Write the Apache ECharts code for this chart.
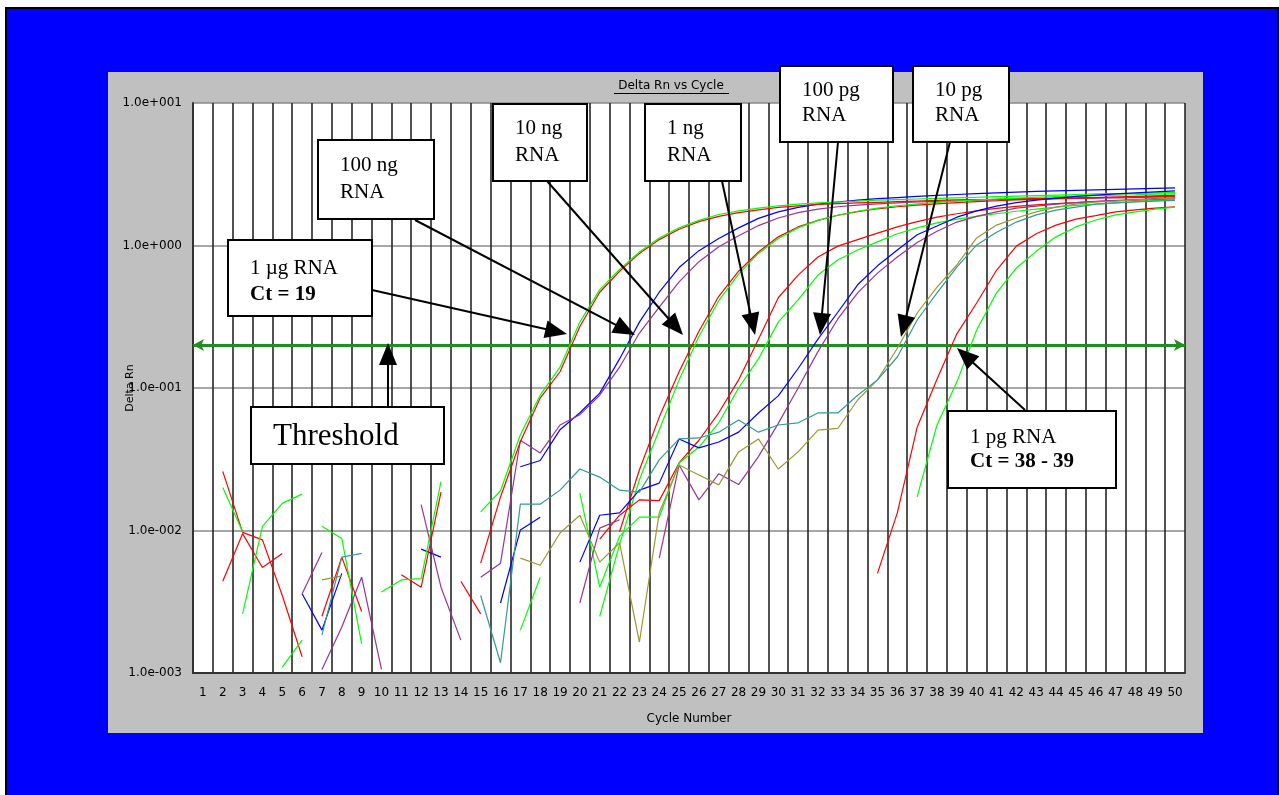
<!DOCTYPE html>
<html>
<head>
<meta charset="utf-8">
<script src="https://cdn.jsdelivr.net/npm/echarts/dist/echarts.min.js"></script>
<style>
  html, body { margin: 0; padding: 0; background: #ffffff; }
  #chart { width: 1279px; height: 795px; }
</style>
</head>
<body>
<div id="chart"></div>
<script>
// Real-time PCR amplification plot: Delta Rn (log scale) against cycle number
// for a 10-fold RNA dilution series, each dilution run in duplicate.

const _ = null;

const CYCLES = [
  '1','2','3','4','5','6','7','8','9','10',
  '11','12','13','14','15','16','17','18','19','20',
  '21','22','23','24','25','26','27','28','29','30',
  '31','32','33','34','35','36','37','38','39','40',
  '41','42','43','44','45','46','47','48','49','50'
];

const Y_TICKS = [0.001, 0.01, 0.1, 1, 10];
const THRESHOLD = 0.2;

// 1 ug RNA
const ug1_red = [
  _, 0.026, 0.0097, 0.0086, 0.0035, 0.0013, _, _, _, _,
  _, _, _, _, 0.0059, 0.0172, 0.042, 0.085, 0.13, 0.27,
  0.47, 0.66, 0.88, 1.1, 1.3, 1.47, 1.6, 1.7, 1.78, 1.85,
  1.9, 1.94, 1.97, 1.99, 2.01, 2.03, 2.05, 2.07, 2.09, 2.1,
  2.11, 2.13, 2.14, 2.15, 2.16, 2.17, 2.18, 2.19, 2.21, 2.22
];
const ug1_green = [
  _, 0.020, 0.0098, _, 0.0011, 0.0017, _, _, _, _,
  _, _, _, _, 0.0135, 0.019, 0.047, 0.089, 0.14, 0.29,
  0.49, 0.68, 0.9, 1.13, 1.33, 1.5, 1.65, 1.75, 1.83, 1.9,
  1.95, 1.99, 2.02, 2.05, 2.08, 2.1, 2.12, 2.14, 2.16, 2.18,
  2.2, 2.22, 2.24, 2.26, 2.28, 2.3, 2.31, 2.32, 2.34, 2.35
];
// 100 ng RNA
const ng100_blue = [
  _, _, _, _, _, 0.0036, 0.0020, 0.0050, _, _,
  _, 0.0074, 0.0065, _, _, _, 0.028, 0.031, 0.051, 0.067,
  0.092, 0.16, 0.29, 0.47, 0.7, 0.92, 1.12, 1.33, 1.55, 1.72,
  1.85, 1.95, 2.02, 2.08, 2.13, 2.17, 2.21, 2.25, 2.28, 2.31,
  2.34, 2.37, 2.4, 2.42, 2.44, 2.46, 2.48, 2.5, 2.52, 2.54
];
const ng100_purple = [
  _, _, _, _, _, 0.0036, 0.0070, _, _, _,
  _, _, _, _, 0.0047, 0.0059, 0.043, 0.035, 0.055, 0.065,
  0.089, 0.14, 0.243, 0.37, 0.555, 0.77, 0.98, 1.17, 1.38, 1.56,
  1.7, 1.8, 1.87, 1.92, 1.96, 1.99, 2.02, 2.04, 2.06, 2.08,
  2.1, 2.11, 2.12, 2.13, 2.14, 2.15, 2.16, 2.17, 2.18, 2.2
];
// 10 ng RNA
const ng10_red = [
  _, 0.0044, 0.0095, 0.0055, 0.0069, _, _, _, _, _,
  _, _, _, _, _, _, _, _, _, _,
  _, 0.0098, 0.0266, 0.0625, 0.13, 0.25, 0.44, 0.66, 0.9, 1.15,
  1.35, 1.5, 1.63, 1.73, 1.81, 1.87, 1.92, 1.96, 2.0, 2.03,
  2.06, 2.09, 2.11, 2.13, 2.15, 2.17, 2.19, 2.21, 2.23, 2.25
];
const ng10_green = [
  _, _, 0.0026, 0.0107, 0.0155, 0.018, _, _, _, _,
  _, _, _, _, _, _, _, _, _, _,
  0.0025, 0.008, 0.0227, 0.0507, 0.114, 0.23, 0.41, 0.63, 0.88, 1.12,
  1.33, 1.5, 1.63, 1.74, 1.83, 1.9, 1.96, 2.01, 2.05, 2.09,
  2.12, 2.15, 2.18, 2.2, 2.22, 2.24, 2.26, 2.27, 2.29, 2.3
];
// 1 ng RNA
const ng1_red = [
  _, _, _, _, _, _, 0.0025, 0.0065, 0.0027, _,
  0.0049, 0.0040, 0.0186, _, _, _, _, _, _, _,
  0.0087, 0.0128, 0.0164, 0.0162, 0.0298, 0.043, 0.067, 0.114, 0.22, 0.43,
  0.62, 0.83, 0.99, 1.1, 1.22, 1.35, 1.47, 1.58, 1.67, 1.75,
  1.82, 1.88, 1.93, 1.97, 2.0, 2.03, 2.06, 2.08, 2.1, 2.12
];
const ng1_green = [
  _, _, _, _, _, _, 0.0107, 0.0088, 0.0016, _,
  _, _, _, _, _, _, 0.0020, 0.0047, _, 0.0183,
  0.0040, 0.0091, 0.0124, 0.0124, 0.0298, 0.0385, 0.057, 0.1, 0.16, 0.29,
  0.415, 0.62, 0.79, 0.93, 1.06, 1.21, 1.33, 1.44, 1.53, 1.6,
  1.67, 1.74, 1.8, 1.86, 1.91, 1.95, 1.99, 2.03, 2.07, 2.1
];
// 100 pg RNA
const pg100_blue = [
  _, _, _, _, _, _, _, _, _, _,
  _, _, _, _, _, 0.0031, 0.0101, 0.0124, _, 0.0060,
  0.0128, 0.0133, 0.0192, 0.0215, 0.0439, 0.038, 0.0418, 0.049, 0.0668, 0.088,
  0.137, 0.22, 0.34, 0.53, 0.72, 0.93, 1.19, 1.37, 1.58, 1.75,
  1.89, 2.0, 2.08, 2.15, 2.21, 2.26, 2.3, 2.34, 2.38, 2.42
];
const pg100_purple = [
  _, _, _, _, _, _, 0.00106, 0.0021, 0.0047, 0.00106,
  _, 0.0152, 0.0040, 0.0017, _, _, _, _, _, 0.0031,
  0.0104, 0.0119, _, 0.0064, 0.0288, 0.0164, 0.025, 0.021, 0.033, 0.0565,
  0.10, 0.18, 0.305, 0.465, 0.64, 0.83, 1.05, 1.26, 1.46, 1.6,
  1.72, 1.83, 1.89, 1.95, 2.0, 2.04, 2.07, 2.1, 2.13, 2.15
];
// 10 pg RNA
const pg10_olive = [
  _, _, _, _, _, _, 0.0045, 0.0048, _, _,
  _, _, _, _, _, _, 0.0064, 0.0057, 0.0096, 0.0128,
  0.0060, 0.0082, 0.00165, 0.0133, 0.0288, 0.0245, 0.0209, 0.0356, 0.0439, 0.027,
  0.0356, 0.0507, 0.052, 0.0824, 0.114, 0.19, 0.336, 0.51, 0.73, 1.13,
  1.39, 1.56, 1.72, 1.86, 1.95, 2.02, 2.05, 2.09, 2.12, 2.16
];
const pg10_teal = [
  _, _, _, _, _, _, 0.00185, 0.0065, 0.0069, _,
  _, _, _, _, 0.0035, 0.00118, 0.0153, 0.0153, 0.0192, 0.027,
  0.0237, 0.0192, 0.0186, 0.0313, 0.0439, 0.0446, 0.049, 0.0596, 0.049, 0.055,
  0.057, 0.0668, 0.0668, 0.089, 0.114, 0.165, 0.30, 0.465, 0.706, 1.01,
  1.24, 1.46, 1.64, 1.77, 1.86, 1.95, 1.99, 2.02, 2.05, 2.07
];
// 1 pg RNA
const pg1_red = [
  _, _, _, _, _, _, _, _, _, _,
  _, _, _, 0.0044, 0.0026, _, _, _, _, _,
  _, _, _, _, _, _, _, _, _, _,
  _, _, _, _, 0.0050, 0.0133, 0.053, 0.115, 0.24, 0.395,
  0.67, 0.99, 1.21, 1.39, 1.53, 1.62, 1.72, 1.78, 1.83, 1.87
];
const pg1_green = [
  _, _, _, _, _, _, _, _, _, 0.0037,
  0.0045, 0.0046, 0.022, _, _, _, _, _, _, _,
  _, _, _, _, _, _, _, _, _, _,
  _, _, _, _, _, _, 0.0172, 0.055, 0.11, 0.255,
  0.465, 0.695, 0.91, 1.15, 1.35, 1.51, 1.64, 1.72, 1.80, 1.86
];

const RED = '#ff0000', GREEN = '#00ff00', BLUE = '#0000ff',
      PURPLE = '#993399', OLIVE = '#999933', TEAL = '#339999';

const traces = [
  [ng100_blue, BLUE], [ng100_purple, PURPLE],
  [ug1_red, RED], [ug1_green, GREEN],
  [ng10_red, RED], [ng10_green, GREEN],
  [ng1_red, RED], [ng1_green, GREEN],
  [pg100_blue, BLUE], [pg100_purple, PURPLE],
  [pg10_olive, OLIVE], [pg10_teal, TEAL],
  [pg1_red, RED], [pg1_green, GREEN]
];

const SERIF = '"Liberation Serif", "Times New Roman", serif';
const SANS = '"DejaVu Sans", sans-serif';

// callout boxes with their text lines [text, bold, dy]
const notes = [
  { x: 228, y: 240, w: 144, h: 76, size: 21, lines: [['1 \u00b5g RNA', false, 28], ['Ct = 19', true, 55]] },
  { x: 318, y: 140, w: 116, h: 79, size: 21, lines: [['100 ng', false, 25], ['RNA', false, 52]] },
  { x: 493, y: 104, w: 94, h: 77, size: 21, lines: [['10 ng', false, 24], ['RNA', false, 51]] },
  { x: 645, y: 104, w: 96, h: 77, size: 21, lines: [['1 ng', false, 24], ['RNA', false, 51]] },
  { x: 780, y: 66, w: 113, h: 76, size: 21, lines: [['100 pg', false, 24], ['RNA', false, 49]] },
  { x: 913, y: 66, w: 96, h: 76, size: 21, lines: [['10 pg', false, 24], ['RNA', false, 49]] },
  { x: 948, y: 411, w: 168, h: 77, size: 21, lines: [['1 pg RNA', false, 26], ['Ct = 38 - 39', true, 51]] },
  { x: 251, y: 407, w: 193, h: 57, size: 31, lines: [['Threshold', false, 30]] }
];

// pointer arrows [x1, y1, tipX, tipY]
const pointers = [
  [372, 290, 567, 334],
  [415, 220, 635, 335],
  [547, 181, 683, 335],
  [722, 181, 755, 335],
  [838, 142, 820, 335],
  [950, 142, 901, 337],
  [1025, 410, 957, 348],
  [388, 408, 388, 343]
];

function arrowEls(x1, y1, x2, y2) {
  const len = 22, half = 9;
  const dx = x2 - x1, dy = y2 - y1, L = Math.hypot(dx, dy);
  const ux = dx / L, uy = dy / L;
  const bx = x2 - ux * len, by = y2 - uy * len;
  const px = -uy * half, py = ux * half;
  return [
    { type: 'line', z: 100, silent: true,
      shape: { x1: x1, y1: y1, x2: bx + ux * 2, y2: by + uy * 2 },
      style: { stroke: '#000', lineWidth: 2 } },
    { type: 'polygon', z: 100, silent: true,
      shape: { points: [[x2, y2], [bx + px, by + py], [bx - px, by - py]] },
      style: { fill: '#000' } }
  ];
}

function noteEls(n) {
  const els = [{
    type: 'rect', z: 101, silent: true,
    shape: { x: n.x, y: n.y, width: n.w, height: n.h },
    style: { fill: '#fff', stroke: '#000', lineWidth: 2 }
  }];
  n.lines.forEach(function (ln) {
    els.push({
      type: 'text', z: 102, silent: true,
      style: {
        text: ln[0], x: n.x + 22, y: n.y + ln[2],
        fontFamily: SERIF, fontSize: n.size, fontWeight: ln[1] ? 'bold' : 'normal',
        fill: '#000', align: 'left', verticalAlign: 'middle'
      }
    });
  });
  return els;
}

const graphics = [
  // blue slide background with black frame
  { type: 'rect', z: -10, silent: true,
    shape: { x: 6, y: 8, width: 1272, height: 800 },
    style: { fill: '#0000ff', stroke: '#000', lineWidth: 2 } },
  // grey chart panel
  { type: 'rect', z: -9, silent: true,
    shape: { x: 108, y: 72, width: 1095, height: 661 },
    style: { fill: '#c0c0c0' } },
  // underlined plot title
  { type: 'text', z: 5, silent: true,
    style: { text: 'Delta Rn vs Cycle', x: 671, y: 86, fontFamily: SANS, fontSize: 12,
             fill: '#000', align: 'center', verticalAlign: 'middle' } },
  { type: 'line', z: 5, silent: true,
    shape: { x1: 614, y1: 93.5, x2: 729, y2: 93.5 },
    style: { stroke: '#000', lineWidth: 1 } }
];
pointers.forEach(function (p) { graphics.push.apply(graphics, arrowEls(p[0], p[1], p[2], p[3])); });
notes.forEach(function (n) { graphics.push.apply(graphics, noteEls(n)); });

function sci(v) {
  const e = Math.round(Math.log10(v));
  const s = String(Math.abs(e)).padStart(3, '0');
  return '1.0e' + (e < 0 ? '-' : '+') + s;
}

const series = traces.map(function (t, i) {
  return {
    type: 'line', data: t[0], symbol: 'none', connectNulls: false,
    lineStyle: { color: t[1], width: 1.2 }, itemStyle: { color: t[1] },
    silent: true, animation: false, z: 3 + i
  };
});
// threshold line with arrowheads at both ends
series.push({
  type: 'line', data: [], symbol: 'none', silent: true, animation: false, z: 40,
  markLine: {
    silent: true, animation: false,
    symbol: ['arrow', 'arrow'], symbolSize: [9, 11],
    label: { show: false },
    lineStyle: { color: '#1f8f1f', width: 3, type: 'solid' },
    emphasis: { disabled: true },
    data: [{ yAxis: THRESHOLD }]
  }
});

const chart = echarts.init(document.getElementById('chart'), null, { renderer: 'canvas' });
chart.setOption({
  animation: false,
  backgroundColor: '#ffffff',
  grid: {
    left: 193, top: 103, right: 94, bottom: 122,
    show: true, backgroundColor: '#ffffff', borderWidth: 0,
    outerBoundsMode: 'none', containLabel: false
  },
  xAxis: {
    type: 'category', data: CYCLES, boundaryGap: true,
    name: 'Cycle Number', nameLocation: 'middle', nameGap: 40, nameMoveOverlap: false,
    nameTextStyle: { fontFamily: SANS, fontSize: 12, color: '#000' },
    axisLine: { show: true, lineStyle: { color: '#333', width: 2 } },
    axisTick: { show: false },
    axisLabel: { interval: 0, margin: 14, fontFamily: SANS, fontSize: 12, color: '#000' },
    splitLine: { show: true, interval: 0, lineStyle: { color: '#262626', width: 1.6 } }
  },
  yAxis: {
    type: 'log', logBase: 10, min: Y_TICKS[0], max: Y_TICKS[Y_TICKS.length - 1],
    name: 'Delta Rn', nameLocation: 'middle', nameGap: 57, nameMoveOverlap: false,
    nameTextStyle: { fontFamily: SANS, fontSize: 11, color: '#000' },
    axisLine: { show: true, lineStyle: { color: '#333', width: 2 } },
    axisTick: { show: false },
    axisLabel: { margin: 11, fontFamily: SANS, fontSize: 12, color: '#000', formatter: sci },
    splitLine: { show: true, lineStyle: { color: '#8a8a8a', width: 1.5 } }
  },
  series: series,
  graphic: { elements: graphics }
});
</script>
</body>
</html>
